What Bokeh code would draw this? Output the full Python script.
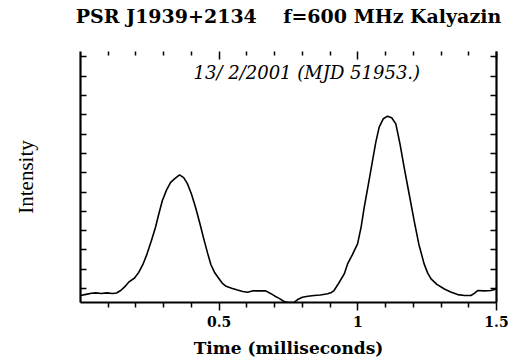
from bokeh.plotting import figure
from bokeh.models import Range1d, LinearAxis, FixedTicker, Label
from bokeh.embed import file_html
from bokeh.resources import INLINE

# ---- data ----
time_ms = [0.000, 0.020, 0.040, 0.055, 0.075, 0.095, 0.115, 0.130, 0.145, 0.160,
           0.175, 0.195, 0.210, 0.225, 0.240, 0.255, 0.270, 0.283, 0.295, 0.310,
           0.325, 0.340, 0.357, 0.372, 0.385, 0.400, 0.415, 0.430, 0.445, 0.458,
           0.470, 0.483, 0.495, 0.510, 0.525, 0.545, 0.566, 0.585, 0.602, 0.620,
           0.645, 0.668, 0.685, 0.700, 0.718, 0.734, 0.750, 0.770, 0.785, 0.800,
           0.820, 0.842, 0.865, 0.891, 0.905, 0.914, 0.930, 0.951, 0.963, 0.980,
           0.999, 1.012, 1.023, 1.038, 1.053, 1.065, 1.077, 1.092, 1.107, 1.122,
           1.137, 1.152, 1.167, 1.185, 1.203, 1.220, 1.239, 1.252, 1.264, 1.285,
           1.312, 1.335, 1.360, 1.385, 1.408, 1.420, 1.432, 1.455, 1.480, 1.500]
intensity = [-0.36, -0.30, -0.24, -0.22, -0.25, -0.22, -0.25, -0.23, -0.10, 0.10,
             0.35, 0.55, 0.84, 1.25, 1.80, 2.45, 3.15, 3.90, 4.55, 5.10,
             5.50, 5.70, 5.89, 5.75, 5.45, 4.90, 4.20, 3.40, 2.55, 1.85,
             1.25, 0.85, 0.60, 0.30, 0.12, 0.02, -0.07, -0.15, -0.19, -0.12,
             -0.11, -0.12, -0.25, -0.38, -0.52, -0.67, -0.72, -0.71, -0.55, -0.45,
             -0.40, -0.36, -0.33, -0.27, -0.20, -0.10, 0.25, 0.76, 1.28, 1.75,
             2.32, 3.20, 4.21, 5.40, 6.63, 7.60, 8.36, 8.80, 8.93, 8.85,
             8.53, 7.50, 6.28, 4.90, 3.52, 2.30, 1.28, 0.80, 0.50, 0.22,
             -0.02, -0.18, -0.31, -0.36, -0.36, -0.25, -0.10, -0.12, -0.10, -0.02]

x_major_ticks = [0.5, 1.0, 1.5]
x_tick_labels = ["0.5", "1", "1.5"]
x_minor_ticks = [0.1, 0.2, 0.3, 0.4, 0.6, 0.7, 0.8, 0.9, 1.1, 1.2, 1.3, 1.4]
y_ticks = list(range(0, 13))

title_parts = ["PSR J1939+2134", "f=600 MHz Kalyazin"]
date_text = "13/ 2/2001 (MJD 51953.)"
x_label = "Time (milliseconds)"
y_label = "Intensity"

SERIF = "DejaVu Serif"

p = figure(frame_width=416, frame_height=251,
           min_border_left=80, min_border_top=51, min_border_right=32, min_border_bottom=5,
           x_range=Range1d(0, 1.5), y_range=Range1d(-0.72, 12.28),
           x_axis_type=None, y_axis_type=None,
           output_backend="svg", toolbar_location=None)
p.outline_line_color = None
p.background_fill_color = "white"
p.border_fill_color = "white"

xt = FixedTicker(ticks=x_major_ticks, minor_ticks=x_minor_ticks)
yt = FixedTicker(ticks=y_ticks, minor_ticks=[])
overrides = {t: s for t, s in zip(x_major_ticks, x_tick_labels)}
blank_x = {t: "" for t in x_major_ticks}
blank_y = {t: "" for t in y_ticks}

# bottom axis
bx = LinearAxis(ticker=xt, major_label_overrides=overrides, axis_label=x_label)
bx.axis_line_width = 2.2
bx.major_tick_in = 0
bx.major_tick_out = 8
bx.minor_tick_in = 0
bx.minor_tick_out = 5
bx.major_tick_line_width = 1.5
bx.minor_tick_line_width = 1.5
bx.major_label_standoff = 5
bx.major_label_text_font = SERIF
bx.major_label_text_font_style = "bold"
bx.major_label_text_font_size = "14px"
bx.major_label_text_color = "black"
bx.axis_label_text_font = SERIF
bx.axis_label_text_font_style = "bold"
bx.axis_label_text_font_size = "17px"
bx.axis_label_standoff = 8
bx.axis_label_text_color = "black"
p.add_layout(bx, "below")

# top axis: tick marks only, carrying the heading line above the plot
# (no-break spaces keep the wide gap between the two parts visible)
tx = LinearAxis(ticker=xt, major_label_overrides=blank_x,
                axis_label=(" " + "\u00a0" * 3).join(title_parts))
tx.axis_line_color = None
tx.major_tick_in = 8
tx.major_tick_out = 0
tx.minor_tick_in = 4
tx.minor_tick_out = 0
tx.major_tick_line_width = 1.5
tx.minor_tick_line_width = 1.5
tx.major_label_standoff = 0
tx.axis_label_text_font = SERIF
tx.axis_label_text_font_style = "bold"
tx.axis_label_text_font_size = "19px"
tx.axis_label_text_color = "black"
tx.axis_label_standoff = 25
p.add_layout(tx, "above")

# left axis
ly = LinearAxis(ticker=yt, axis_label=y_label, major_label_overrides=blank_y)
ly.axis_line_width = 2.2
ly.major_tick_in = 6
ly.major_tick_out = 0
ly.major_tick_line_width = 1.5
ly.major_label_standoff = 0
ly.axis_label_text_font = "Liberation Serif"
ly.axis_label_text_font_style = "normal"
ly.axis_label_text_font_size = "21px"
ly.axis_label_standoff = 43
ly.axis_label_text_color = "black"
p.add_layout(ly, "left")

# right axis
ry = LinearAxis(ticker=yt, major_label_overrides=blank_y)
ry.axis_line_width = 2.2
ry.major_tick_in = 6
ry.major_tick_out = 0
ry.major_tick_line_width = 1.5
ry.major_label_standoff = 0
p.add_layout(ry, "right")

p.line(time_ms, intensity, line_color="black", line_width=1.6)

p.add_layout(Label(x=0.816, y=11.2, text=date_text, text_font=SERIF,
                   text_font_style="italic", text_font_size="18px",
                   text_align="center", text_baseline="middle", text_color="black"))

open("out.html", "w").write(file_html(p, INLINE))
